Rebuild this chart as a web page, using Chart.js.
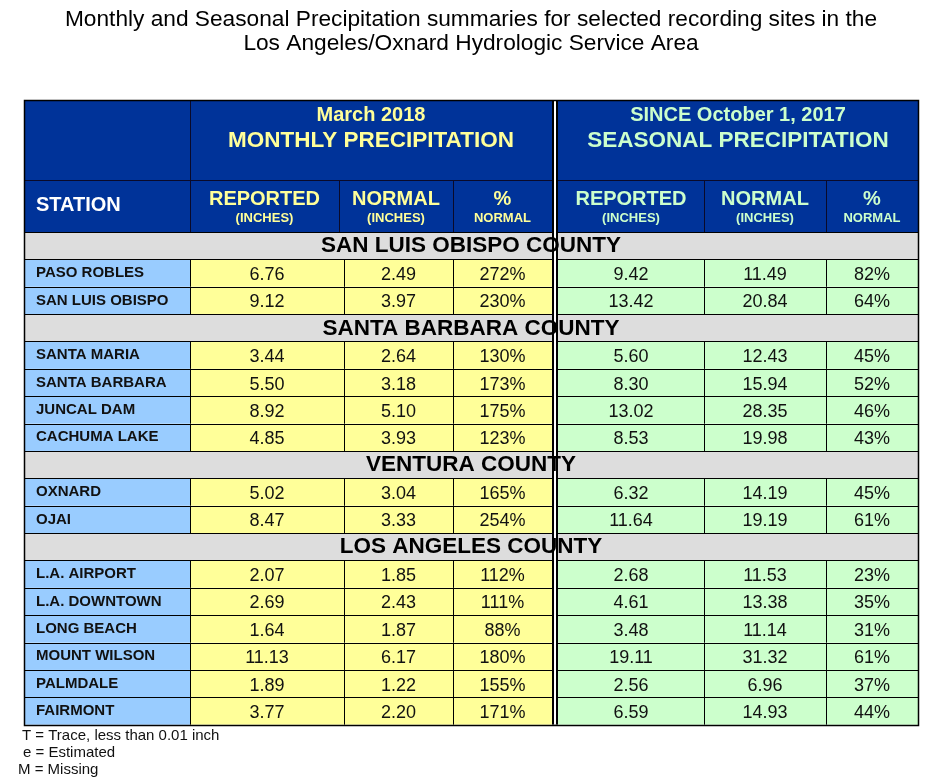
<!DOCTYPE html>
<html>
<head>
<meta charset="utf-8">
<script src="https://cdn.jsdelivr.net/npm/chart.js@4"></script>
<style>
  html, body { margin: 0; padding: 0; background: #fff; }
  #wrap { width: 941px; height: 780px; }
</style>
</head>
<body>
<div id="wrap"><canvas id="table" width="941" height="780"></canvas></div>
<script>
// data
const titleLines = [
    'Monthly and Seasonal Precipitation summaries for selected recording sites in the',
    'Los Angeles/Oxnard Hydrologic Service Area'
];
const counties = ['SAN LUIS OBISPO COUNTY', 'SANTA BARBARA COUNTY', 'VENTURA COUNTY', 'LOS ANGELES COUNTY'];
const stations = ['PASO ROBLES', 'SAN LUIS OBISPO', 'SANTA MARIA', 'SANTA BARBARA', 'JUNCAL DAM', 'CACHUMA LAKE',
    'OXNARD', 'OJAI', 'L.A. AIRPORT', 'L.A. DOWNTOWN', 'LONG BEACH', 'MOUNT WILSON', 'PALMDALE', 'FAIRMONT'];
const stationCounty = [0, 0, 1, 1, 1, 1, 2, 2, 3, 3, 3, 3, 3, 3];

const monthReported = [6.76, 9.12, 3.44, 5.50, 8.92, 4.85, 5.02, 8.47, 2.07, 2.69, 1.64, 11.13, 1.89, 3.77];
const monthNormal = [2.49, 3.97, 2.64, 3.18, 5.10, 3.93, 3.04, 3.33, 1.85, 2.43, 1.87, 6.17, 1.22, 2.20];
const monthPct = [272, 230, 130, 173, 175, 123, 165, 254, 112, 111, 88, 180, 155, 171];
const seasonReported = [9.42, 13.42, 5.60, 8.30, 13.02, 8.53, 6.32, 11.64, 2.68, 4.61, 3.48, 19.11, 2.56, 6.59];
const seasonNormal = [11.49, 20.84, 12.43, 15.94, 28.35, 19.98, 14.19, 19.19, 11.53, 13.38, 11.14, 31.32, 6.96, 14.93];
const seasonPct = [82, 64, 45, 52, 46, 43, 45, 61, 23, 35, 31, 61, 37, 44];

const monthTitle = ['March 2018', 'MONTHLY PRECIPITATION'];
const seasonTitle = ['SINCE October 1, 2017', 'SEASONAL PRECIPITATION'];
const columnHeads = [['REPORTED', '(INCHES)'], ['NORMAL', '(INCHES)'], ['%', 'NORMAL']];
const footnotes = ['T = Trace, less than 0.01 inch', 'e = Estimated', 'M = Missing'];

// body rows: county banner followed by its stations
const rows = [];
counties.forEach((name, c) => {
    rows.push({ kind: 'county', label: name });
    stations.forEach((s, i) => {
        if (stationCounty[i] === c) rows.push({ kind: 'station', label: s, i: i });
    });
});

// layout (x in table units, 0 = left edge of table)
const TABLE_W = 894;
const bodyEdges = [0, 166, 320, 429, 528, 534, 680, 802, 894];
const headEdges = [0, 166, 315, 429, 528, 534, 680, 802, 894];
const HEAD1 = 80, HEAD2 = 52;

const BLUE = '#003399';
const YELLOW_TXT = '#ffff99';
const GREEN_TXT = '#ccffcc';
const STATION_BG = '#99ccff';
const MONTH_BG = '#ffff99';
const SEASON_BG = '#ccffcc';
const COUNTY_BG = '#dddddd';
const FONT = '"Liberation Sans", Arial, sans-serif';

function fmt2(v) { return v.toFixed(2); }

const tablePlugin = {
    id: 'precipTable',
    afterDraw(chart) {
        const { ctx, chartArea, scales } = chart;
        const x = scales.x, y = scales.y;
        const band = y.getPixelForValue(1) - y.getPixelForValue(0);
        const px = v => x.getPixelForValue(v);
        const bx = k => px(bodyEdges[k]);
        const hx = k => px(headEdges[k]);
        const left = px(0), right = px(TABLE_W);
        const mid = (left + right) / 2;
        const top = chartArea.top - HEAD1 - HEAD2;
        const bottom = y.getPixelForValue(rows.length - 1) + band / 2;

        ctx.save();

        // title
        ctx.fillStyle = '#000';
        ctx.textAlign = 'center';
        ctx.textBaseline = 'alphabetic';
        ctx.font = '22.7px ' + FONT;
        titleLines.forEach((t, k) => ctx.fillText(t, mid, 25.5 + k * 24.5));
        ctx.textBaseline = 'middle';

        // header background
        ctx.fillStyle = BLUE;
        ctx.fillRect(left, top, right - left, HEAD1 + HEAD2);

        // body fills
        rows.forEach((r, ri) => {
            const y0 = y.getPixelForValue(ri) - band / 2;
            if (r.kind === 'county') {
                ctx.fillStyle = COUNTY_BG;
                ctx.fillRect(left, y0, right - left, band);
            } else {
                ctx.fillStyle = STATION_BG;
                ctx.fillRect(bx(0), y0, bx(1) - bx(0), band);
                ctx.fillStyle = MONTH_BG;
                ctx.fillRect(bx(1), y0, bx(4) - bx(1), band);
                ctx.fillStyle = SEASON_BG;
                ctx.fillRect(bx(5), y0, bx(8) - bx(5), band);
            }
        });

        // header lines
        const y2 = top + HEAD1;
        ctx.strokeStyle = '#0a0a2a';
        ctx.lineWidth = 1;
        ctx.beginPath();
        ctx.moveTo(left, y2 + 0.5); ctx.lineTo(right, y2 + 0.5);
        ctx.moveTo(Math.round(hx(1)) + 0.5, top); ctx.lineTo(Math.round(hx(1)) + 0.5, top + HEAD1 + HEAD2);
        [2, 3, 6, 7].forEach(k => { ctx.moveTo(Math.round(hx(k)) + 0.5, y2); ctx.lineTo(Math.round(hx(k)) + 0.5, y2 + HEAD2); });
        ctx.stroke();

        // body grid
        ctx.strokeStyle = '#000';
        ctx.beginPath();
        rows.forEach((r, ri) => {
            const y0 = y.getPixelForValue(ri) - band / 2;
            const ly = Math.round(y0) + 0.5;
            ctx.moveTo(left, ly); ctx.lineTo(right, ly);
            if (r.kind === 'station') {
                [1, 2, 3, 6, 7].forEach(k => {
                    const lx = Math.round(bx(k)) + 0.5;
                    ctx.moveTo(lx, y0); ctx.lineTo(lx, y0 + band);
                });
            }
        });
        ctx.stroke();

        // double rule between monthly and seasonal blocks
        const s0 = Math.round(bx(4));
        const s1 = Math.round(bx(5));
        ctx.fillStyle = '#000';
        ctx.fillRect(s0, top, s1 - s0, bottom - top);
        ctx.fillStyle = '#fff';
        ctx.fillRect(s0 + 2, top, 2, bottom - top);

        // outer frame
        ctx.lineWidth = 1.5;
        ctx.strokeRect(Math.round(left) + 0.5, Math.round(top) + 0.5, Math.round(right - left), Math.round(bottom - top));

        // header text
        const monthMid = (hx(1) + hx(4)) / 2;
        const seasonMid = (hx(5) + hx(8)) / 2;
        ctx.textAlign = 'center';
        ctx.fillStyle = YELLOW_TXT;
        ctx.font = 'bold 20px ' + FONT;
        ctx.fillText(monthTitle[0], monthMid, top + 15);
        ctx.font = 'bold 22.5px ' + FONT;
        ctx.fillText(monthTitle[1], monthMid, top + 41);
        ctx.fillStyle = GREEN_TXT;
        ctx.font = 'bold 20px ' + FONT;
        ctx.fillText(seasonTitle[0], seasonMid, top + 15);
        ctx.font = 'bold 22.5px ' + FONT;
        ctx.fillText(seasonTitle[1], seasonMid, top + 41);

        ctx.fillStyle = '#fff';
        ctx.textAlign = 'left';
        ctx.font = 'bold 20px ' + FONT;
        ctx.fillText('STATION', left + 12, y2 + 25);

        ctx.textAlign = 'center';
        [[1, 2, 3], [5, 6, 7]].forEach((group, g) => {
            group.forEach((k, j) => {
                const cx = (hx(k) + hx(k + 1)) / 2;
                ctx.fillStyle = g === 0 ? YELLOW_TXT : GREEN_TXT;
                ctx.font = 'bold 20px ' + FONT;
                ctx.fillText(columnHeads[j][0], cx, y2 + 19);
                ctx.font = 'bold 13px ' + FONT;
                ctx.fillText(columnHeads[j][1], cx, y2 + 38);
            });
        });

        // body text
        rows.forEach((r, ri) => {
            const cy = y.getPixelForValue(ri);
            if (r.kind === 'county') {
                ctx.fillStyle = '#000';
                ctx.textAlign = 'center';
                ctx.font = 'bold 22.5px ' + FONT;
                ctx.fillText(r.label, mid, cy + 0.5);
                return;
            }
            const i = r.i;
            ctx.fillStyle = '#111';
            ctx.textAlign = 'left';
            ctx.font = 'bold 15px ' + FONT;
            ctx.fillText(r.label, bx(0) + 12, cy);

            const vals = [fmt2(monthReported[i]), fmt2(monthNormal[i]), monthPct[i] + '%',
                null, fmt2(seasonReported[i]), fmt2(seasonNormal[i]), seasonPct[i] + '%'];
            ctx.textAlign = 'center';
            ctx.font = '18px ' + FONT;
            vals.forEach((v, k) => {
                if (v === null) return;
                ctx.fillText(v, (bx(k + 1) + bx(k + 2)) / 2, cy + 2);
            });
        });

        // footnotes
        ctx.fillStyle = '#111';
        ctx.textAlign = 'left';
        ctx.textBaseline = 'alphabetic';
        ctx.font = '15px ' + FONT;
        const fx = [22, 23, 18];
        footnotes.forEach((t, k) => ctx.fillText(t, fx[k], bottom + 15.5 + k * 17));

        ctx.restore();
    }
};

new Chart(document.getElementById('table'), {
    type: 'bar',
    data: {
        labels: rows.map(r => r.label),
        datasets: []
    },
    options: {
        responsive: false,
        animation: false,
        indexAxis: 'y',
        layout: { padding: { left: 24, right: 23, top: 232, bottom: 55.3 } },
        plugins: { legend: { display: false }, tooltip: { enabled: false } },
        scales: {
            x: { type: 'linear', min: 0, max: TABLE_W, display: false },
            y: { type: 'category', offset: true, display: false }
        }
    },
    plugins: [tablePlugin]
});
</script>
</body>
</html>
